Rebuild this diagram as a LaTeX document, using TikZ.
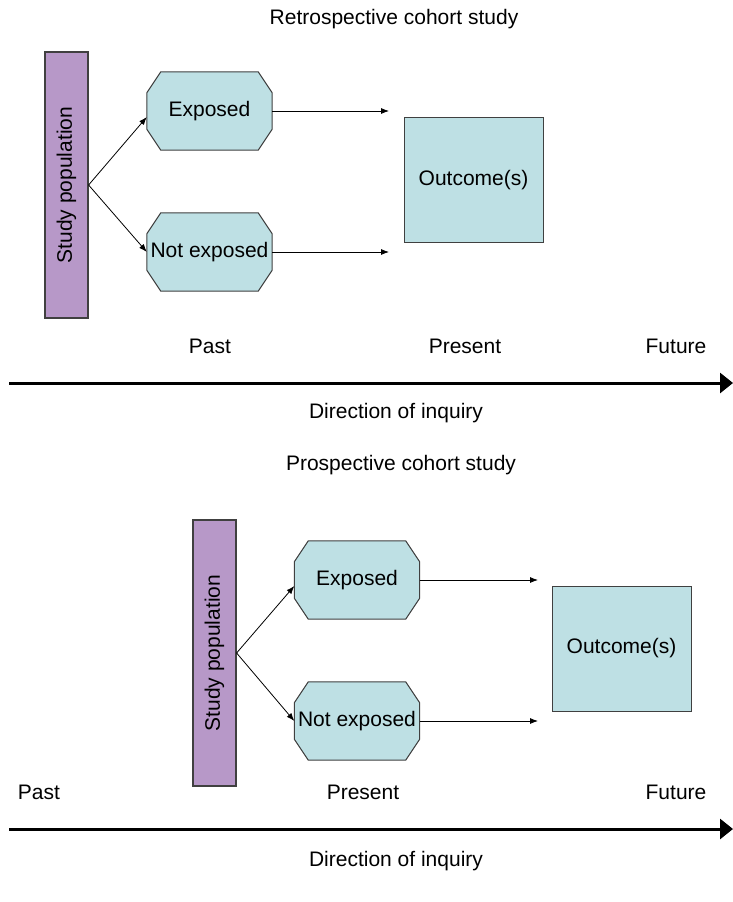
\documentclass[tikz,border=0pt]{standalone}
\usepackage{fontspec}
\setmainfont{Liberation Sans}
\usetikzlibrary{arrows.meta,backgrounds}
\definecolor{popcol}{RGB}{183,152,200}
\definecolor{boxcol}{RGB}{190,224,228}
\begin{document}
\begin{tikzpicture}[x=1pt,y=-1pt,
		font=\fontsize{21}{25}\selectfont,
		popbox/.style={draw=black!75, line width=1.2pt, fill=popcol, rotate=90, minimum width=266pt, minimum height=43pt, inner sep=0pt},
		groupbox/.style={minimum width=125pt, minimum height=78pt, inner sep=0pt},
		groupline/.style={draw=black!75, line width=1pt, fill=boxcol},
		outbox/.style={draw=black!75, line width=1pt, fill=boxcol, minimum width=139pt, minimum height=125pt, inner sep=0pt},
		lab/.style={inner sep=0pt},
		link/.style={-{Latex[length=8pt,width=6pt]}, line width=0.8pt},
		timeline/.style={-{Triangle[length=13pt,width=20pt]}, line width=3pt}]
	\useasboundingbox (0,0) rectangle (733,902);
	
	% retrospective
	\node[lab] (title1) at (394,19) {Retrospective cohort study};
	\node[popbox] (pop1) at (66.5,185) {Study population};
	\node[groupbox] (exp1) at (209.5,111) {Exposed};
	\node[groupbox] (nexp1) at (209.5,252) {Not exposed};
	\node[outbox] (out1) at (473.5,180) {Outcome(s)};
	\coordinate (e1) at (389,111);
	\coordinate (n1) at (389,252);
	
	\draw[link] (pop1.south) -- ([yshift=-6pt]exp1.west);
	\draw[link] (pop1.south) -- (nexp1.west);
	\draw[link] (exp1.east) -- (e1);
	\draw[link] (nexp1.east) -- (n1);
	
	\node[lab] (past1) at (210,346) {Past};
	\node[lab] (pres1) at (465,346) {Present};
	\node[lab] (fut1) at (676,346) {Future};
	\coordinate (t1a) at (9,383);
	\coordinate (t1b) at (733,383);
	\draw[timeline] (t1a) -- (t1b);
	\node[lab] (dir1) at (396,413) {Direction of inquiry};
	
	% prospective
	\node[lab] (title2) at (401,465) {Prospective cohort study};
	\node[popbox] (pop2) at (214.5,653) {Study population};
	\node[groupbox] (exp2) at (357,580) {Exposed};
	\node[groupbox] (nexp2) at (357,721) {Not exposed};
	\node[outbox] (out2) at (621.5,648.5) {Outcome(s)};
	\coordinate (e2) at (538,580);
	\coordinate (n2) at (538,721);
	
	\draw[link] (pop2.south) -- ([yshift=-6pt]exp2.west);
	\draw[link] (pop2.south) -- (nexp2.west);
	\draw[link] (exp2.east) -- (e2);
	\draw[link] (nexp2.east) -- (n2);
	
	\node[lab] (past2) at (39,792) {Past};
	\node[lab] (pres2) at (363,792) {Present};
	\node[lab] (fut2) at (676,792) {Future};
	\coordinate (t2a) at (9,829);
	\coordinate (t2b) at (733,829);
	\draw[timeline] (t2a) -- (t2b);
	\node[lab] (dir2) at (396,861) {Direction of inquiry};
	
	% octagons behind the group labels
	\begin{scope}[on background layer]
		\foreach \g in {exp1,nexp1,exp2,nexp2}
			\draw[groupline] ([xshift=14pt]\g.north west) -- ([xshift=-14pt]\g.north east)
				-- ([yshift=-21pt]\g.north east) -- ([yshift=21pt]\g.south east)
				-- ([xshift=-14pt]\g.south east) -- ([xshift=14pt]\g.south west)
				-- ([yshift=21pt]\g.south west) -- ([yshift=-21pt]\g.north west) -- cycle;
	\end{scope}
\end{tikzpicture}
\end{document}
